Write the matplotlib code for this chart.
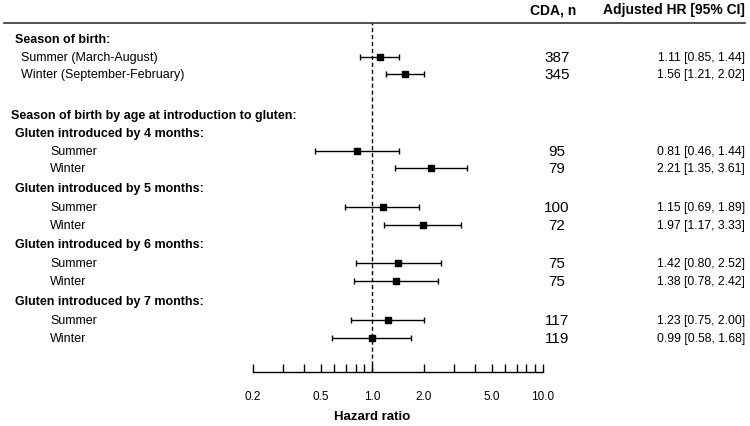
import numpy as np
import matplotlib
matplotlib.use("Agg")
import matplotlib.pyplot as plt
import matplotlib.transforms as mtransforms
from matplotlib.ticker import FixedLocator, NullFormatter

plt.rcParams['font.family'] = ['Liberation Sans', 'DejaVu Sans']

# rows: (label, kind) kind = 'h0','h1' headers or 'r1','r2' data rows
labels = ["Season of birth:", "Summer (March-August)", "Winter (September-February)",
          "Season of birth by age at introduction to gluten:",
          "Gluten introduced by 4 months:", "Summer", "Winter",
          "Gluten introduced by 5 months:", "Summer", "Winter",
          "Gluten introduced by 6 months:", "Summer", "Winter",
          "Gluten introduced by 7 months:", "Summer", "Winter"]
kinds = ["h1", "r1", "r1", "h0", "h1", "r2", "r2", "h1", "r2", "r2",
         "h1", "r2", "r2", "h1", "r2", "r2"]
row_y = [40, 58, 75, 116, 134, 152, 169, 189, 208, 226, 245, 264, 282, 302, 321, 339]

hr = [1.11, 1.56, 0.81, 2.21, 1.15, 1.97, 1.42, 1.38, 1.23, 0.99]
lo = [0.85, 1.21, 0.46, 1.35, 0.69, 1.17, 0.80, 0.78, 0.75, 0.58]
hi = [1.44, 2.02, 1.44, 3.61, 1.89, 3.33, 2.52, 2.42, 2.00, 1.68]
n_cda = [387, 345, 95, 79, 100, 72, 75, 75, 117, 119]

W, H = 750, 427
fig = plt.figure(figsize=(7.5, 4.27), dpi=100)
x0, x1, ytop, ybot = 253, 543, 24, 373
ax = fig.add_axes([x0 / W, 1 - ybot / H, (x1 - x0) / W, (ybot - ytop) / H])
ax.set_xscale('log')
ax.set_xlim(0.2, 10)
ax.set_ylim(ybot, ytop)

data_y = [y for y, k in zip(row_y, kinds) if k.startswith('r')]
hr_a, lo_a, hi_a = np.array(hr), np.array(lo), np.array(hi)
ax.errorbar(hr_a, data_y, xerr=[hr_a - lo_a, hi_a - hr_a], fmt='s', color='black',
            ms=4.5, elinewidth=1.0, capsize=2.5, capthick=1.0)
ax.axvline(1.0, color='black', ls=(0, (3, 2)), lw=1.0)

for s in ['top', 'right', 'left']:
    ax.spines[s].set_visible(False)
ax.spines['bottom'].set_linewidth(1.0)
ax.set_yticks([])
ticks = [0.2, 0.3, 0.4, 0.5, 0.6, 0.7, 0.8, 0.9, 1, 2, 3, 4, 5, 6, 7, 8, 9, 10]
ax.xaxis.set_major_locator(FixedLocator(ticks))
ax.xaxis.set_minor_locator(FixedLocator([]))
ax.xaxis.set_major_formatter(NullFormatter())
ax.tick_params(axis='x', direction='in', length=6, width=1.0)
for v, s in zip([0.2, 0.5, 1, 2, 5, 10], ["0.2", "0.5", "1.0", "2.0", "5.0", "10.0"]):
    ax.text(v, 397, s, ha='center', va='center', fontsize=8.5, clip_on=False)
ax.text(1.0, 417, "Hazard ratio", ha='center', va='center', fontsize=9.5,
        fontweight='bold', clip_on=False)

tr = mtransforms.blended_transform_factory(fig.transFigure, ax.transData)
indent = {"h0": 11, "h1": 15, "r1": 21, "r2": 50}
for lab, k, y in zip(labels, kinds, row_y):
    ax.text(indent[k] / W, y, lab, transform=tr, ha='left', va='center',
            fontsize=9, fontweight='bold' if k.startswith('h') else 'normal')

for y, n, h, l, u in zip(data_y, n_cda, hr, lo, hi):
    ax.text(557 / W, y, str(n), transform=tr, ha='center', va='center', fontsize=11)
    ax.text(745 / W, y, f"{h:.2f} [{l:.2f}, {u:.2f}]", transform=tr,
            ha='right', va='center', fontsize=8.8)

ax.text(553 / W, 10, "CDA, n", transform=tr, ha='center', va='center',
        fontsize=10, fontweight='bold', clip_on=False)
ax.text(745 / W, 10, "Adjusted HR [95% CI]", transform=tr, ha='right', va='center',
        fontsize=10, fontweight='bold', clip_on=False)
ax.plot([4 / W, 745 / W], [ytop, ytop], transform=tr, color='#333333', lw=1.2,
        clip_on=False)

fig.savefig("out.png", dpi=100)
